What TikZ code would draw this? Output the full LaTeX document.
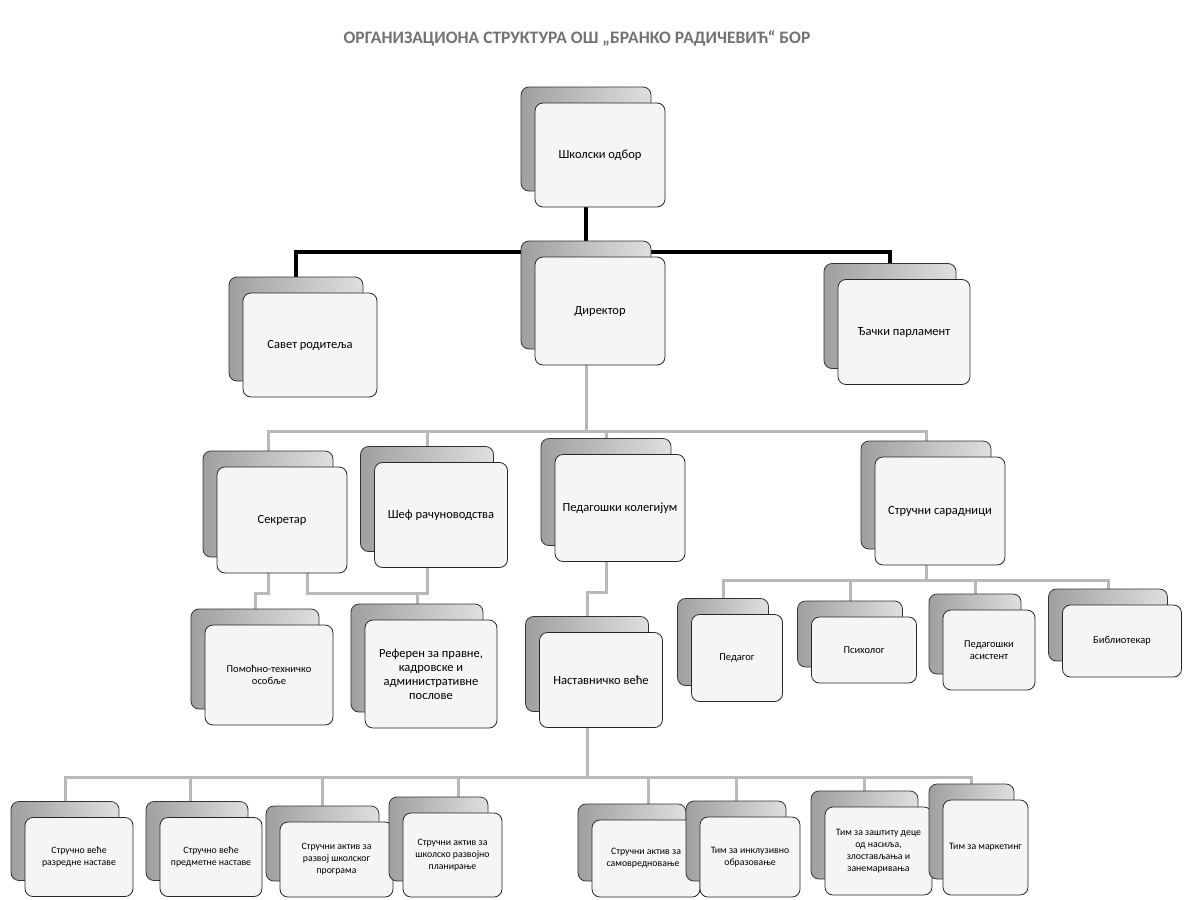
\documentclass[tikz,border=0pt]{standalone}
\usepackage{fontspec}
\setmainfont{Carlito}
\usetikzlibrary{backgrounds,calc}
\tikzset{
  backbox/.style={draw=black!80, line width=0.8pt, rounded corners=8pt, left color=gray!75, right color=gray!25, inner sep=0pt},
  frontbox/.style={draw=black!85, line width=0.8pt, rounded corners=8pt, fill=gray!8, align=center, inner sep=2pt, font=\fontsize{12.5}{14}\selectfont},
  small/.style={font=\fontsize{10.5}{12.5}\selectfont},
  tiny/.style={font=\fontsize{9.8}{12}\selectfont},
  mainconn/.style={draw=black, line width=3.4pt},
  conn/.style={draw=gray!55, line width=3pt},
}
\newcommand{\obox}[7][]{%
  \node[backbox, minimum width=#5pt, minimum height=#6pt] (#2b) at ({#3-14},{#4-16}) {};
  \node[frontbox, minimum width=#5pt, minimum height=#6pt, #1] (#2) at (#3,#4) {#7};
}
\begin{document}
\begin{tikzpicture}[x=1pt,y=-1pt]
\useasboundingbox (0,0) rectangle (1190,899);
\node[font=\fontsize{17.5}{20}\selectfont\bfseries, text=black!55] (title) at (577,38) {ОРГАНИЗАЦИОНА СТРУКТУРА ОШ „БРАНКО РАДИЧЕВИЋ“ БОР};
% level 1
\obox{skolski}{600}{155}{130}{104}{Школски одбор}
\obox{savet}{310}{345}{134}{104}{Савет родитеља}
\obox{direktor}{600}{311}{130}{108}{Директор}
\obox{dacki}{904}{332}{132}{105}{Ђачки парламент}
% level 2
\obox{sekretar}{282}{520}{130}{106}{Секретар}
\obox{sef}{441}{515}{133}{105}{Шеф рачуноводства}
\obox{pedkol}{620}{508}{130}{107}{Педагошки колегијум}
\obox{strsar}{940}{511}{130}{108}{Стручни сарадници}
% level 3
\obox[small]{pomocno}{269}{675}{128}{100}{Помоћно-техничко\\особље}
\obox{referent}{431}{674}{132}{108}{Референ за правне,\\кадровске и\\административне\\послове}
\obox{nast}{601}{680}{123}{95}{Наставничко веће}
\obox[small]{pedagog}{737}{658}{91}{87}{Педагог}
\obox[small]{psiholog}{864}{650}{105}{66}{Психолог}
\obox[small]{asistent}{989}{650}{92}{80}{Педагошки\\асистент}
\obox[small]{bibl}{1122}{641}{119}{72}{Библиотекар}
% bottom row
\obox[tiny]{b1}{79}{857}{108}{79}{Стручно веће\\разредне наставе}
\obox[tiny]{b2}{211}{857}{102}{79}{Стручно веће\\предметне наставе}
\obox[tiny]{b3}{336.5}{859.5}{113}{75}{Стручни актив за\\развој школског\\програма}
\obox[tiny]{b4}{452.5}{855}{99}{84}{Стручни актив за\\школско развојно\\планирање}
\obox[tiny]{b5}{646}{858.5}{108}{77}{Стручни актив за\\самовредновање\hspace*{6pt}}
\obox[tiny]{b6}{750}{857}{100}{80}{Тим за инклузивно\\образовање}
\obox[tiny]{b7}{878.5}{851}{107}{88}{Тим за заштиту деце\\од насиља,\\злостављања и\\занемаривања}
\obox[tiny]{b8}{985.5}{847.5}{85}{95}{Тим за маркетинг}
% connectors
\begin{scope}[on background layer]
  \fill[white] (0,0) rectangle (1190,899);
  \coordinate (bus1) at (586,252);
  \coordinate (bus2) at (586,431);
  \coordinate (bus3) at (926,580);
  \coordinate (bus4) at (587,777);
  \coordinate (k1) at (606,592);
  \coordinate (k2) at (268,593);
  \coordinate (k3) at (307,593);
  \draw[mainconn] (skolskib.south |- skolski.south) -- (direktorb.north);
  \draw[mainconn] (savetb.north) |- (bus1) -| (dackib.north);
  \draw[conn] (direktorb.south |- direktor.south) -- (bus2);
  \draw[conn] (sekretarb.north) |- (bus2) -| (strsarb.north);
  \draw[conn] (sefb.north) -- (sefb.north |- bus2);
  \draw[conn] (pedkolb.north) -- (pedkolb.north |- bus2);
  \draw[conn] (sekretarb.south |- sekretar.south) -- (k2) -| (pomocnob.north);
  \draw[conn] (k3 |- sekretar.south) -- (k3) -| (referentb.north);
  \draw[conn] (sefb.south |- sef.south) -- (sefb.south |- k3) -- (k3);
  \draw[conn] (pedkolb.south |- pedkol.south) -- (k1) -| (nastb.north);
  \draw[conn] (strsarb.south |- strsar.south) -- (bus3);
  \draw[conn] (pedagogb.north) |- (bus3) -| (biblb.north);
  \draw[conn] (psihologb.north) -- (psihologb.north |- bus3);
  \draw[conn] (asistentb.north) -- (asistentb.north |- bus3);
  \draw[conn] (nastb.south |- nast.south) -- (bus4);
  \draw[conn] (b1b.north) |- (bus4) -| (b8b.north);
  \draw[conn] ([xshift=-7pt]b2b.north) -- ([xshift=-7pt]b2b.north |- bus4);
  \draw[conn] (b3b.north) -- (b3b.north |- bus4);
  \draw[conn] ([xshift=20pt]b4b.north) -- ([xshift=20pt]b4b.north |- bus4);
  \draw[conn] ([xshift=16pt]b5b.north) -- ([xshift=16pt]b5b.north |- bus4);
  \draw[conn] (b6b.north) -- (b6b.north |- bus4);
  \draw[conn] (b7b.north) -- (b7b.north |- bus4);
\end{scope}
\end{tikzpicture}
\end{document}
